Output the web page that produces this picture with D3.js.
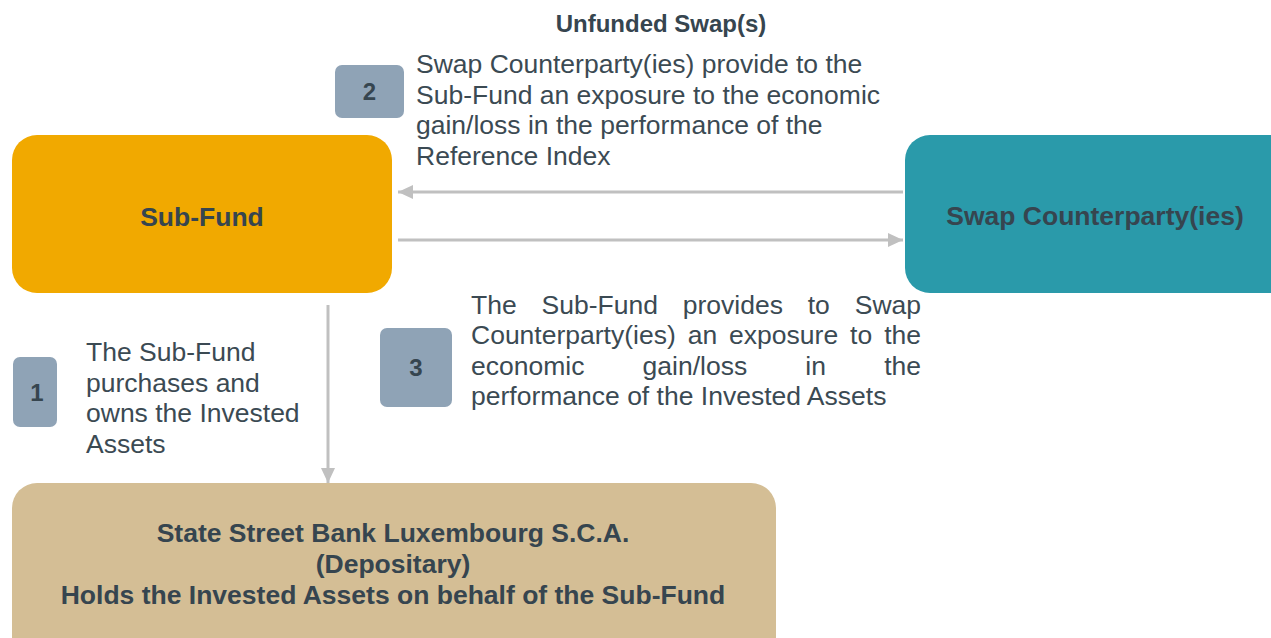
<!DOCTYPE html>
<html>
<head>
<meta charset="utf-8">
<script src="https://cdn.jsdelivr.net/npm/d3@7"></script>
<style>
  html, body { margin: 0; padding: 0; background: #fff; overflow: hidden; }
  svg { display: block; }
</style>
</head>
<body>
<div id="diagram"></div>
<script>
// diagram content
const title = "Unfunded Swap(s)";
const boxNames = ["subFund", "swap", "depositary"];
const boxLabels = [
  ["Sub-Fund"],
  ["Swap Counterparty(ies)"],
  ["State Street Bank Luxembourg S.C.A.", "(Depositary)", "Holds the Invested Assets on behalf of the Sub-Fund"]
];
const stepNumbers = ["1", "2", "3"];
const stepTexts = [
  ["The Sub-Fund", "purchases and", "owns the Invested", "Assets"],
  ["Swap Counterparty(ies) provide to the", "Sub-Fund an exposure to the economic", "gain/loss in the performance of the", "Reference Index"],
  ["The Sub-Fund provides to Swap", "Counterparty(ies) an exposure to the", "economic gain/loss in the", "performance of the Invested Assets"]
];
const flows = [
  ["swap", "subFund"],
  ["subFund", "swap"],
  ["subFund", "depositary"]
];

const width = 1271;
const height = 638;
const fontFamily = "Arial, 'Liberation Sans', Arimo, Helvetica, sans-serif";

const colors = {
  subFund: "#F1A900",
  swap: "#2A9AAA",
  depositary: "#D4BE95",
  badge: "#8FA3B6",
  arrow: "#C0C0C0",
  bold: "#36454F",
  text: "#3B4A53"
};

// layout
const boxLayout = {
  subFund: { x: 12, y: 135, w: 380, h: 158, ty: 225.5 },
  swap: { x: 905, y: 135, w: 400, h: 158, ty: 225, cx: 1095 },
  depositary: { x: 12, y: 483, w: 764, h: 190, ty: 542, cx: 393 }
};
const badgeLayout = [
  { x: 13, y: 357, w: 44, h: 70 },
  { x: 335, y: 65, w: 69, h: 53 },
  { x: 380, y: 328, w: 72, h: 79 }
];
const textLayout = [
  { x: 86, y: 361, justify: 0 },
  { x: 416, y: 73, justify: 0 },
  { x: 471, y: 313.5, justify: 450 }
];
const flowLayout = [
  { x1: 903, y1: 192, x2: 398, y2: 192 },
  { x1: 398, y1: 240, x2: 903, y2: 240 },
  { x1: 328, y1: 305, x2: 328, y2: 483 }
];
const lineH = 30.6;
const bodySize = 26.5;

const svg = d3.select("#diagram")
  .append("svg")
  .attr("width", width)
  .attr("height", height)
  .attr("font-family", fontFamily);

svg.append("defs").append("marker")
  .attr("id", "head")
  .attr("markerUnits", "userSpaceOnUse")
  .attr("markerWidth", 16)
  .attr("markerHeight", 14)
  .attr("refX", 15)
  .attr("refY", 7)
  .attr("orient", "auto")
  .append("path")
  .attr("d", "M0,0 L15,7 L0,14 Z")
  .attr("fill", colors.arrow);

// title
svg.append("text")
  .attr("x", 661)
  .attr("y", 32)
  .attr("text-anchor", "middle")
  .attr("font-size", 24)
  .attr("font-weight", "bold")
  .attr("fill", colors.bold)
  .text(title);

// boxes
const boxes = svg.selectAll("g.box")
  .data(boxNames)
  .enter().append("g")
  .attr("class", "box");

boxes.append("rect")
  .attr("x", d => boxLayout[d].x)
  .attr("y", d => boxLayout[d].y)
  .attr("width", d => boxLayout[d].w)
  .attr("height", d => boxLayout[d].h)
  .attr("rx", 25)
  .attr("fill", d => colors[d]);

boxes.each(function(d, i) {
  const b = boxLayout[d];
  const cx = b.cx !== undefined ? b.cx : b.x + b.w / 2;
  d3.select(this).selectAll("text")
    .data(boxLabels[i])
    .enter().append("text")
    .attr("x", cx)
    .attr("y", (t, j) => b.ty + j * 31)
    .attr("text-anchor", "middle")
    .attr("font-size", bodySize)
    .attr("font-weight", "bold")
    .attr("fill", colors.bold)
    .text(t => t);
});

// arrows
svg.selectAll("line.flow")
  .data(flows)
  .enter().append("line")
  .attr("class", "flow")
  .attr("x1", (d, i) => flowLayout[i].x1)
  .attr("y1", (d, i) => flowLayout[i].y1)
  .attr("x2", (d, i) => flowLayout[i].x2)
  .attr("y2", (d, i) => flowLayout[i].y2)
  .attr("stroke", colors.arrow)
  .attr("stroke-width", 3)
  .attr("marker-end", "url(#head)");

// step badges
const badges = svg.selectAll("g.badge")
  .data(stepNumbers)
  .enter().append("g")
  .attr("class", "badge");

badges.append("rect")
  .attr("x", (d, i) => badgeLayout[i].x)
  .attr("y", (d, i) => badgeLayout[i].y)
  .attr("width", (d, i) => badgeLayout[i].w)
  .attr("height", (d, i) => badgeLayout[i].h)
  .attr("rx", 7)
  .attr("fill", colors.badge);

badges.append("text")
  .attr("x", (d, i) => badgeLayout[i].x + badgeLayout[i].w / 2 + (d === "1" ? 2 : 0))
  .attr("y", (d, i) => badgeLayout[i].y + badgeLayout[i].h / 2 + 8.5)
  .attr("text-anchor", "middle")
  .attr("font-size", 24)
  .attr("font-weight", "bold")
  .attr("fill", colors.bold)
  .text(d => d);

// step texts, last line of a justified block stays left aligned
stepTexts.forEach((lines, i) => {
  const L = textLayout[i];
  const g = svg.append("g").attr("class", "step-text");
  lines.forEach((line, j) => {
    const y = L.y + j * lineH;
    if (!L.justify || j === lines.length - 1) {
      g.append("text")
        .attr("x", L.x).attr("y", y)
        .attr("font-size", bodySize)
        .attr("fill", colors.text)
        .text(line);
      return;
    }
    const words = line.split(" ");
    const ws = g.selectAll(null)
      .data(words)
      .enter().append("text")
      .attr("y", y)
      .attr("font-size", bodySize)
      .attr("fill", colors.text)
      .text(w => w);
    const widths = [];
    ws.each(function() { widths.push(this.getComputedTextLength()); });
    const gap = (L.justify - d3.sum(widths)) / (words.length - 1);
    let x = L.x;
    ws.attr("x", (w, k) => {
      const pos = x;
      x += widths[k] + gap;
      return pos;
    });
  });
});
</script>
</body>
</html>
